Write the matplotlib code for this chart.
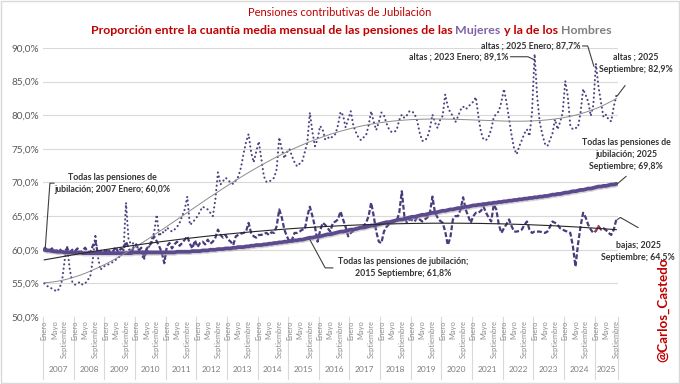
import numpy as np
import matplotlib
matplotlib.use("Agg")
import matplotlib.pyplot as plt
import matplotlib.patheffects as pe
from matplotlib.transforms import blended_transform_factory

plt.rcParams['font.family'] = ['Lato', 'DejaVu Sans']

# monthly data, 2007 Enero .. 2025 Septiembre (one row per year)
altas = [
    55.0, 54.6, 54.5, 54.2, 54.0, 53.8, 54.3, 55.5, 58.5, 60.4, 57.0, 55.2,
    54.8, 55.0, 55.2, 54.8, 55.0, 55.5, 56.0, 58.5, 62.3, 59.0, 57.0, 57.5,
    57.6, 57.8, 58.0, 58.2, 58.5, 58.8, 59.2, 59.6, 67.0, 61.5, 60.8, 61.0,
    60.4, 60.0, 59.4, 58.5, 59.6, 60.4, 61.5, 62.5, 65.2, 62.0, 62.7, 62.5,
    63.3, 63.0, 62.7, 63.0, 63.4, 64.0, 65.0, 66.0, 67.9, 63.7, 64.0, 64.5,
    65.0, 65.7, 66.4, 66.2, 66.0, 65.5, 65.0, 67.5, 71.5, 69.7, 70.2, 70.7,
    70.4, 69.9, 69.8, 70.3, 70.9, 72.2, 74.2, 76.0, 77.2, 74.5, 73.0, 74.6,
    76.1, 73.5, 70.9, 70.1, 70.1, 70.4, 70.7, 72.0, 76.7, 75.0, 73.6, 74.5,
    75.0, 73.9, 73.0, 72.4, 72.8, 73.1, 74.5, 76.0, 80.4, 77.5, 75.4, 76.4,
    78.4, 77.9, 76.4, 76.7, 76.5, 76.9, 77.2, 78.5, 80.5, 80.0, 78.2, 79.4,
    80.6, 78.5, 77.5, 76.7, 76.3, 76.7, 77.0, 78.5, 80.6, 79.0, 77.8, 79.0,
    80.4, 80.0, 78.8, 77.9, 77.5, 77.5, 77.8, 79.3, 80.1, 79.6, 80.0, 80.6,
    80.6, 80.2, 79.2, 77.4, 76.2, 76.2, 76.7, 78.0, 80.1, 78.9, 78.1, 79.3,
    79.9, 83.1, 81.3, 80.4, 79.9, 79.0, 79.8, 80.8, 81.3, 80.9, 81.2, 81.7,
    82.0, 82.7, 79.8, 77.5, 76.4, 76.3, 76.8, 77.9, 79.7, 80.2, 80.6, 82.0,
    83.9, 81.9, 79.4, 77.0, 75.0, 74.2, 75.4, 76.3, 77.3, 77.9, 76.9, 80.5,
    89.1, 82.8, 79.0, 77.2, 75.8, 75.4, 76.3, 77.3, 79.4, 77.9, 79.0, 80.4,
    85.1, 82.8, 78.4, 77.9, 78.1, 78.2, 80.4, 83.9, 83.0, 82.0, 79.9, 81.5,
    87.7, 84.3, 81.9, 79.7, 80.1, 79.3, 79.1, 81.3, 82.9,
]

bajas = [
    60.4, 60.0, 59.8, 60.2, 59.6, 59.9, 60.1, 59.7, 59.8, 60.2, 59.6, 60.0,
    59.8, 60.2, 59.5, 59.9, 60.3, 59.7, 59.6, 60.6, 61.3, 59.4, 59.8, 60.0,
    59.7, 60.1, 59.4, 59.8, 60.4, 59.6, 60.2, 60.0, 61.2, 60.3, 59.5, 60.4,
    60.8, 59.9, 60.3, 58.8, 60.1, 60.6, 61.0, 62.0, 61.3, 60.5, 59.6, 58.0,
    60.5, 61.0, 60.2, 60.8, 61.2, 60.6, 61.0, 61.5, 62.0, 60.9, 60.2, 61.4,
    60.4, 61.0, 61.2, 60.8, 61.5, 60.9, 61.2, 61.8, 63.0, 62.2, 61.8, 62.2,
    61.5, 61.2, 60.7, 62.0, 62.2, 62.4, 62.5, 62.7, 64.0, 62.5, 62.0, 61.8,
    62.2, 62.2, 62.4, 62.5, 62.2, 62.6, 62.5, 63.5, 66.0, 64.8, 63.0, 62.0,
    61.2, 61.5, 62.5, 62.5, 62.7, 63.0, 63.0, 65.0, 66.4, 65.0, 63.4, 61.2,
    62.8, 64.0, 63.7, 63.2, 62.7, 64.0, 64.2, 64.5, 65.7, 64.5, 63.4, 62.0,
    62.5, 62.8, 63.0, 63.1, 63.3, 63.5, 64.0, 65.0, 67.0, 65.0, 62.7, 61.2,
    61.0, 62.7, 63.4, 63.8, 64.0, 64.2, 64.3, 65.5, 68.7, 65.0, 64.0, 64.5,
    64.4, 64.2, 64.8, 64.5, 64.2, 64.5, 64.8, 65.5, 67.9, 65.5, 64.8, 64.3,
    64.0, 62.7, 60.7, 61.8, 64.5, 65.0, 65.0, 66.0, 67.8, 66.0, 65.0, 64.0,
    65.0, 65.5, 65.5, 65.8, 66.4, 65.5, 64.8, 64.2, 66.7, 66.0, 63.7, 62.5,
    63.2, 63.8, 64.5, 63.5, 62.7, 62.7, 62.8, 63.0, 63.7, 64.2, 63.0, 62.5,
    62.7, 62.7, 62.7, 62.6, 62.5, 62.7, 63.4, 64.2, 64.0, 63.7, 63.2, 63.0,
    62.8, 62.7, 62.5, 60.5, 57.5, 60.8, 63.5, 65.5, 64.8, 63.7, 63.0, 62.5,
    62.8, 63.5, 63.0, 63.2, 62.9, 62.5, 62.2, 63.0, 64.5,
]

todas = [
    60.0, 59.9, 59.9, 59.8, 59.8, 59.7, 59.7, 59.7, 59.6, 59.6, 59.6, 59.6,
    59.6, 59.6, 59.6, 59.5, 59.5, 59.5, 59.5, 59.5, 59.5, 59.5, 59.5, 59.5,
    59.5, 59.5, 59.5, 59.5, 59.5, 59.5, 59.5, 59.5, 59.5, 59.5, 59.5, 59.6,
    59.6, 59.6, 59.6, 59.6, 59.6, 59.6, 59.6, 59.6, 59.6, 59.6, 59.6, 59.6,
    59.6, 59.6, 59.6, 59.6, 59.7, 59.7, 59.7, 59.7, 59.7, 59.7, 59.8, 59.8,
    59.8, 59.8, 59.9, 59.9, 59.9, 60.0, 60.0, 60.0, 60.1, 60.1, 60.1, 60.2,
    60.2, 60.2, 60.3, 60.3, 60.4, 60.4, 60.4, 60.5, 60.5, 60.6, 60.6, 60.7,
    60.7, 60.7, 60.8, 60.8, 60.9, 60.9, 61.0, 61.0, 61.1, 61.1, 61.2, 61.2,
    61.3, 61.3, 61.4, 61.4, 61.5, 61.5, 61.6, 61.7, 61.8, 61.8, 61.9, 62.0,
    62.0, 62.1, 62.2, 62.3, 62.3, 62.4, 62.5, 62.6, 62.7, 62.7, 62.8, 62.9,
    63.0, 63.0, 63.1, 63.2, 63.3, 63.3, 63.4, 63.5, 63.6, 63.6, 63.7, 63.8,
    63.9, 64.0, 64.1, 64.1, 64.2, 64.3, 64.4, 64.5, 64.5, 64.6, 64.7, 64.8,
    64.9, 64.9, 65.0, 65.1, 65.2, 65.2, 65.3, 65.4, 65.5, 65.5, 65.6, 65.7,
    65.8, 65.8, 65.9, 66.0, 66.0, 66.1, 66.2, 66.2, 66.3, 66.4, 66.4, 66.5,
    66.6, 66.6, 66.7, 66.7, 66.8, 66.8, 66.9, 66.9, 67.0, 67.0, 67.1, 67.1,
    67.2, 67.2, 67.3, 67.3, 67.4, 67.4, 67.5, 67.5, 67.6, 67.6, 67.7, 67.7,
    67.8, 67.8, 67.9, 67.9, 68.0, 68.0, 68.1, 68.2, 68.2, 68.3, 68.3, 68.4,
    68.5, 68.5, 68.6, 68.7, 68.7, 68.8, 68.9, 68.9, 69.0, 69.1, 69.1, 69.2,
    69.3, 69.4, 69.4, 69.5, 69.5, 69.6, 69.7, 69.7, 69.8,
]

years = list(range(2007, 2026))
month_labels = {0: 'Enero', 4: 'Mayo', 8: 'Septiembre'}
y_ticks = [50, 55, 60, 65, 70, 75, 80, 85, 90]

RED = '#C00000'
PURPLE = '#7F64A8'
GRAY = '#808080'
TXT = '#333333'

W, H = 680, 384
fig = plt.figure(figsize=(W / 100, H / 100), dpi=100)
ax = fig.add_axes([43 / W, 1 - 317 / H, 574.6 / W, 269 / H])

n = len(altas)
x = np.arange(n)

# series
ax.plot(x, altas, color='#4A4580', lw=1.5, linestyle=(0, (0.1, 2.0)),
        dash_capstyle='round', zorder=3)
ax.plot(x, bajas, color='#4A3B7C', lw=1.6, linestyle=(0, (2.2, 1.0)), zorder=4)
ax.plot(x[216:218], bajas[216:218], color='#D03030', lw=1.2, zorder=4.5)
ax.plot(x, todas, color='#5B4A8E', lw=2.7, solid_capstyle='round', zorder=5,
        path_effects=[pe.SimpleLineShadow(offset=(0.6, -1.0), shadow_color='#A0A0A0', alpha=0.45),
                      pe.Normal()])

# polynomial trend lines
tt = x / (n - 1)
ax.plot(x, np.polyval(np.polyfit(tt, altas, 4), tt), color='#8C8C8C', lw=0.7, zorder=6)
ax.plot(x, np.polyval(np.polyfit(tt, bajas, 2), tt), color='#262626', lw=0.8, zorder=6)

ax.set_xlim(-0.5, n - 0.5)
ax.set_ylim(50, 90)
ax.set_yticks(y_ticks)
ax.set_yticklabels([f"{v:.1f}".replace('.', ',') + '%' for v in y_ticks])
ax.tick_params(axis='y', length=0, pad=3, labelsize=7.2, labelcolor='#595959')
ax.set_xticks([])
ax.grid(axis='y', color='#D9D9D9', lw=0.8)
ax.set_axisbelow(True)
for s in ax.spines.values():
    s.set_visible(False)

# category axis: month labels, year labels and separators
trans = blended_transform_factory(ax.transData, ax.transAxes)
for k, yr in enumerate(years):
    start = k * 12
    nm = min(12, n - start)
    for m, lab in month_labels.items():
        if m < nm:
            ax.text(start + m, -0.012, lab, rotation=90, ha='center', va='top',
                    fontsize=5.4, color='#8C8C8C', transform=trans)
    ax.text(start + nm / 2 - 0.5, -0.197, str(yr), ha='center', va='center',
            fontsize=6, color='#7F7F7F', transform=trans)
    ax.plot([start - 0.5, start - 0.5], [0, -0.23], color='#D9D9D9', lw=0.8,
            transform=trans, clip_on=False)
ax.plot([n - 0.5, n - 0.5], [0, -0.23], color='#D9D9D9', lw=0.8,
        transform=trans, clip_on=False)

# annotations
ann = dict(fontsize=6.3, fontweight='bold', color=TXT, clip_on=False, linespacing=1.45)
lk = dict(color='#404040', lw=0.8, clip_on=False, zorder=7)

i23 = 192
i25 = 216
ax.text(181.6, 88.7, 'altas ; 2023 Enero; 89,1%', ha='right', va='center', **ann)
ax.plot([182.6, 189.4, i23 - 0.4], [88.7, 88.7, altas[i23] - 0.8], **lk)

ax.text(209.8, 90.3, 'altas ; 2025 Enero; 87,7%', ha='right', va='center', **ann)
ax.plot([210.8, 212.8, i25 - 0.8], [90.3, 90.3, altas[i25] - 0.4], **lk)

ax.text(231.7, 87.7, 'altas ; 2025\nSeptiembre; 82,9%', ha='center', va='center', **ann)
ax.plot([227.4, n - 0.6], [84.4, altas[-1]], **lk)

ax.text(26.5, 69.8, 'Todas las pensiones de\njubilación; 2007 Enero; 60,0%',
        ha='center', va='center', **ann)
ax.plot([3.8, 2.2, 0.4], [69.9, 69.9, todas[0] + 0.3], **lk)

i15 = 104
ax.text(140.5, 57.3, 'Todas las pensiones de jubilación;\n2015 Septiembre; 61,8%',
        ha='center', va='center', **ann)
ax.plot([113.0, 110.0, i15], [57.3, 57.3, todas[i15] - 0.3], **lk)

ax.text(227.8, 74.2, 'Todas las pensiones de\njubilación; 2025\nSeptiembre; 69,8%',
        ha='center', va='center', **ann)
ax.plot([227.8, n - 0.6], [70.9, todas[-1]], **lk)

ax.text(232.5, 59.8, 'bajas; 2025\nSeptiembre; 64,5%', ha='center', va='center', **ann)
ax.plot([n - 0.6, 225.6, 232.5], [bajas[-1], bajas[-1] + 0.3, 63.3], **lk)

# titles
fig.text(0.5, 1 - 13 / H, 'Pensiones contributivas de Jubilación', ha='center',
         va='center', color=RED, fontsize=8)
fig.canvas.draw()
r = fig.canvas.get_renderer()
tkw = dict(fontsize=8.9, fontweight='bold', va='center')


def text_w(s):
    t = fig.text(0, 0, s, **tkw)
    w = t.get_window_extent(r).width
    t.remove()
    return w


parts = [('Proporción entre la cuantía media mensual de las pensiones de las', RED),
         ('Mujeres', PURPLE), ('y la de los', RED), ('Hombres', GRAY)]
space = text_w('M M') - text_w('MM')
widths = [text_w(s) for s, _ in parts]
total = sum(widths) + space * (len(parts) - 1)
xp = 351 - total / 2
for (s, c), w in zip(parts, widths):
    fig.text(xp / W, 1 - 30 / H, s, color=c, ha='left', **tkw)
    xp += w + space

fig.text(663 / W, 1 - 310 / H, '@Carlos_Castedo', rotation=90, ha='center',
         va='center', color=RED, fontsize=9.6, fontweight='bold')

fig.patches.append(plt.Rectangle((0.002, 0.003), 0.996, 0.994, transform=fig.transFigure,
                                 fill=False, edgecolor='#D9D9D9', lw=1))

fig.savefig('out.png', dpi=100, facecolor='white')
